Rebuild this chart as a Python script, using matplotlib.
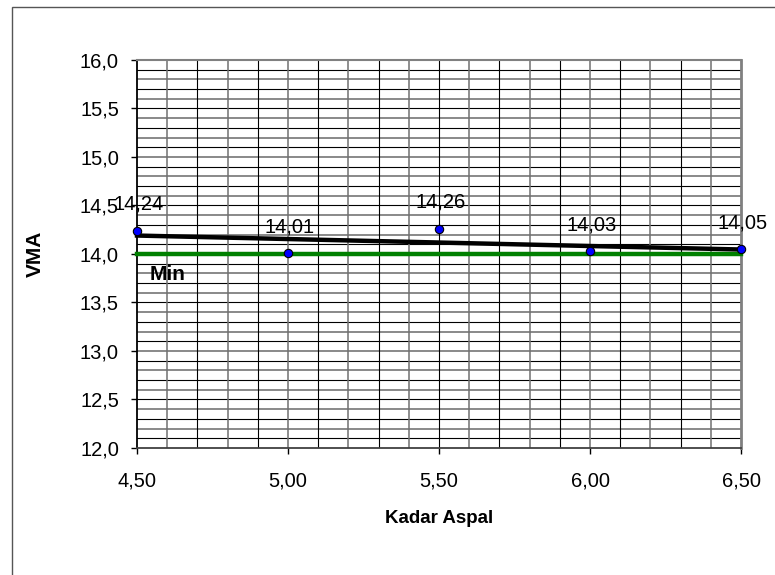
import matplotlib.pyplot as plt
import matplotlib.ticker as ticker
import numpy as np
from matplotlib.patches import Rectangle

plt.rcParams["font.family"] = ["Liberation Sans", "DejaVu Sans"]

# VMA measured at each asphalt content
kadar_aspal = [4.50, 5.00, 5.50, 6.00, 6.50]
vma = [14.24, 14.01, 14.26, 14.03, 14.05]

# specification minimum
min_x = [4.50, 6.50]
min_y = [14.0, 14.0]
min_label = "Min"


def comma_fmt(decimals):
    return ticker.FuncFormatter(lambda v, _: f"{v:.{decimals}f}".replace(".", ","))


fig = plt.figure(figsize=(7.75, 5.75), dpi=100)
ax = fig.add_axes([0.1768, 0.2209, 0.7794, 0.6748])

# outer chart frame (left and top edges only are inside the image)
fig.patches.append(Rectangle((12 / 775, -0.1), 1.2, 1 - 7 / 575 + 0.1,
                             transform=fig.transFigure, fill=False,
                             edgecolor="#555555", lw=1.0, zorder=0))

ax.set_xlim(4.5, 6.5)
ax.set_ylim(12.0, 16.0)

# gridlines every 0.1, alternating gray and black
for yv in np.arange(12.1, 16.0, 0.1):
    even = round(yv * 10) % 2 == 0
    ax.axhline(yv, color="#808080" if even else "black",
               lw=1.3 if even else 0.8, zorder=1)
for xv in np.arange(4.6, 6.5, 0.1):
    even = round(xv * 10) % 2 == 0
    ax.axvline(xv, color="#707070" if even else "black",
               lw=1.1 if even else 0.8, zorder=1)

ax.plot(min_x, min_y, color="#008000", lw=3.2, zorder=3, clip_on=False)

# linear trend of the measured points
coef = np.polyfit(kadar_aspal, vma, 1)
trend_x = np.array([kadar_aspal[0], kadar_aspal[-1]])
ax.plot(trend_x, np.polyval(coef, trend_x), color="black", lw=3.2,
        zorder=4, clip_on=False)

ax.plot(kadar_aspal, vma, ls="none", marker="o", ms=6, mfc="#0000FF",
        mec="black", mew=0.8, zorder=5, clip_on=False)

for x, y in zip(kadar_aspal, vma):
    ax.annotate(f"{y:.2f}".replace(".", ","), (x, y), xytext=(1, 15),
                textcoords="offset points", ha="center", va="baseline",
                fontsize=14.5, zorder=6, annotation_clip=False)

ax.text(4.543, 13.73, min_label, fontsize=15, fontweight="bold",
        ha="left", va="baseline", zorder=6)

ax.xaxis.set_major_locator(ticker.MultipleLocator(0.5))
ax.yaxis.set_major_locator(ticker.MultipleLocator(0.5))
ax.xaxis.set_major_formatter(comma_fmt(2))
ax.yaxis.set_major_formatter(comma_fmt(1))
ax.tick_params(axis="both", labelsize=14.5, direction="out", length=4,
               width=1.0, color="black")
ax.tick_params(axis="x", pad=13)
ax.tick_params(axis="y", pad=9)

ax.spines["left"].set_color("black")
ax.spines["bottom"].set_color("#404040")
ax.spines["top"].set_color("#808080")
ax.spines["right"].set_color("#808080")
ax.spines["left"].set_linewidth(1.3)
ax.spines["bottom"].set_linewidth(1.3)
ax.spines["top"].set_linewidth(1.5)
ax.spines["right"].set_linewidth(2.0)

ax.set_xlabel("Kadar Aspal", fontsize=13.5, fontweight="bold")
ax.set_ylabel("VMA", fontsize=15, fontweight="bold")
ax.xaxis.set_label_coords(0.5, -0.16)
ax.yaxis.set_label_coords(-0.152, 0.5)

fig.savefig("out.png", dpi=100)
